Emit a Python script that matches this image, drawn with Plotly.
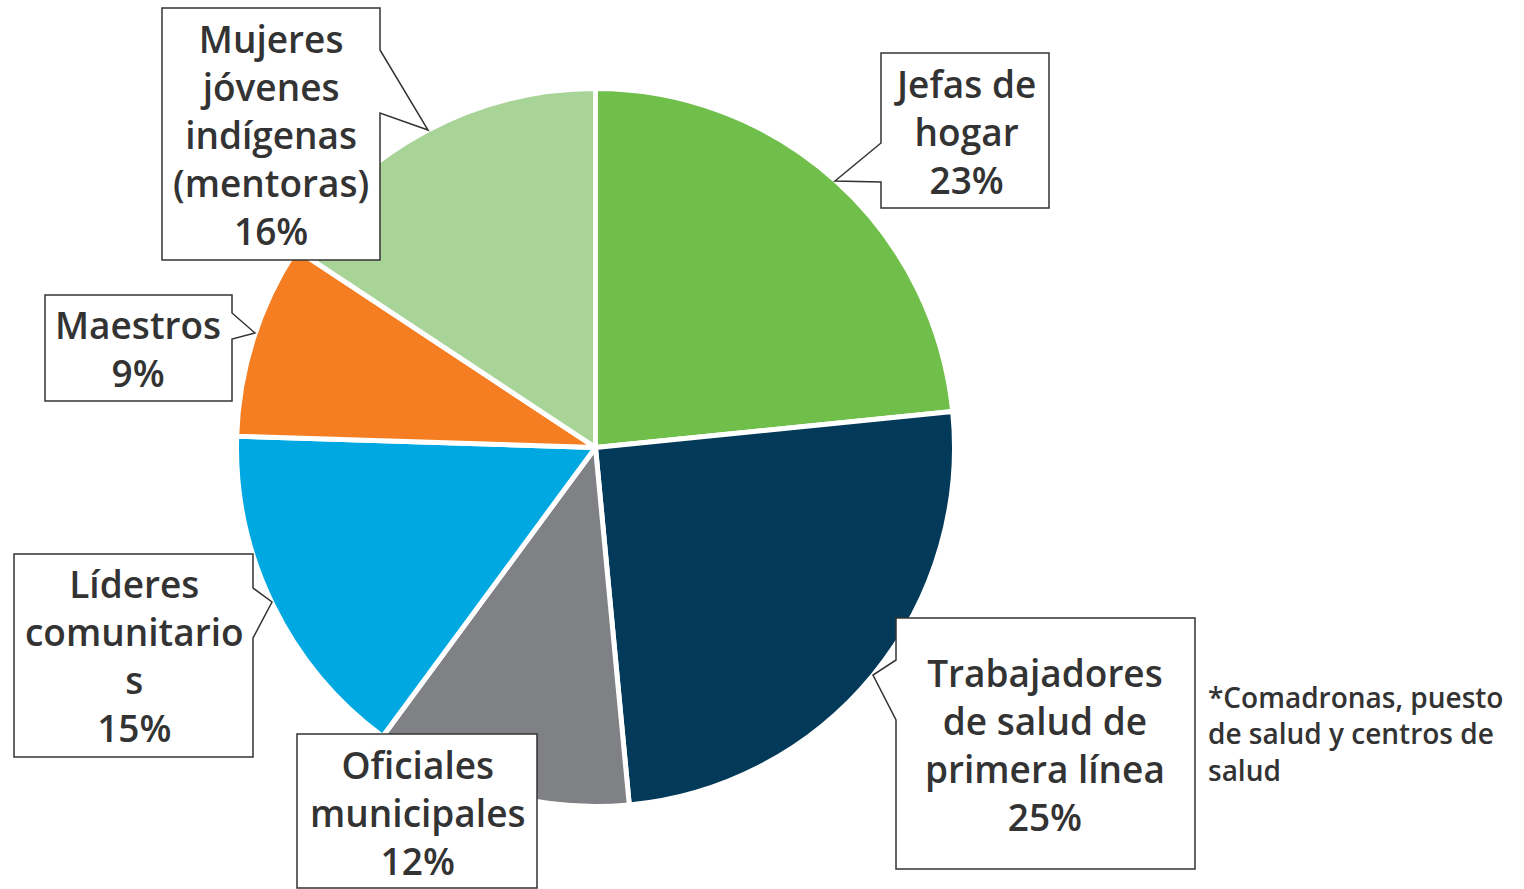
import plotly.graph_objects as go

# ---- data ----
labels = ["Jefas de hogar", "Trabajadores de salud de primera línea", "Oficiales municipales",
          "Líderes comunitarios", "Maestros", "Mujeres jóvenes indígenas (mentoras)"]
label_lines = ["Jefas de<br>hogar", "Trabajadores<br>de salud de<br>primera línea", "Oficiales<br>municipales",
               "Líderes<br>comunitario<br>s", "Maestros", "Mujeres<br>jóvenes<br>indígenas<br>(mentoras)"]
values = [23.4, 25.1, 11.6, 15.4, 8.8, 15.7]          # slice sizes
shown_pct = [23, 25, 12, 15, 9, 16]                     # percentages printed in the callouts
colors = ["#70BF4B", "#033A5A", "#808184", "#00A8E1", "#F47E21", "#A9D497"]
footnote = "*Comadronas, puesto<br>de salud y centros de<br>salud"

W, H = 1524, 889
def px(x, y):
    return x / W, 1 - y / H

# pie placement (pixels)
cx, cy, r = 595.5, 447.5, 359

fig = go.Figure(go.Pie(
    labels=labels, values=values, sort=False, direction="clockwise", rotation=0,
    marker=dict(colors=colors, line=dict(color="white", width=5)),
    textinfo="none", hoverinfo="label+percent", showlegend=False,
    domain=dict(x=[(cx - r) / W, (cx + r) / W], y=[1 - (cy + r) / H, 1 - (cy - r) / H]),
))

# callout outlines (pixel polygons)
callouts = [
    [(881, 53), (1049, 53), (1049, 208), (881, 208), (881, 182), (835, 181), (881, 143)],
    [(896, 618), (1195, 618), (1195, 869), (896, 869), (896, 720), (873, 675), (896, 660)],
    [(297, 734), (537, 734), (537, 888), (297, 888)],
    [(14, 554), (253, 554), (253, 588), (272, 602), (253, 638), (253, 757), (14, 757)],
    [(45, 295), (232, 295), (232, 313), (255, 333), (232, 339), (232, 401), (45, 401)],
    [(162, 8), (380, 8), (380, 50), (428, 130), (380, 113), (380, 260), (162, 260)],
]
text_centers = [(965, 131), (1045, 744), (417, 812), (134, 655), (138, 348), (271, 134)]

shapes = []
for poly in callouts:
    pts = [px(x, y) for x, y in poly]
    path = "M " + " L ".join(f"{a:.5f},{b:.5f}" for a, b in pts) + " Z"
    shapes.append(dict(type="path", path=path, xref="paper", yref="paper",
                       fillcolor="white", line=dict(color="#333333", width=1.5), layer="above"))

font_family = "'Open Sans', Roboto, sans-serif"
annotations = []
for txt, p, (x, y) in zip(label_lines, shown_pct, text_centers):
    ax, ay = px(x, y)
    annotations.append(dict(text=f"{txt}<br>{p}%", x=ax, y=ay, xref="paper", yref="paper",
                            xanchor="center", yanchor="middle", showarrow=False, align="center",
                            font=dict(family=font_family, size=37, color="#333333", weight=600)))
fx, fy = px(1206, 733)
annotations.append(dict(text=footnote, x=fx, y=fy, xref="paper", yref="paper",
                        xanchor="left", yanchor="middle", showarrow=False, align="left",
                        font=dict(family=font_family, size=28, color="#333333", weight=600)))

fig.update_layout(width=W, height=H, margin=dict(l=0, r=0, t=0, b=0),
                  paper_bgcolor="white", plot_bgcolor="white",
                  shapes=shapes, annotations=annotations)

fig.write_html("out.html", config={"displayModeBar": False},
               post_script="document.body.style.margin='0';document.body.style.overflow='hidden';")
